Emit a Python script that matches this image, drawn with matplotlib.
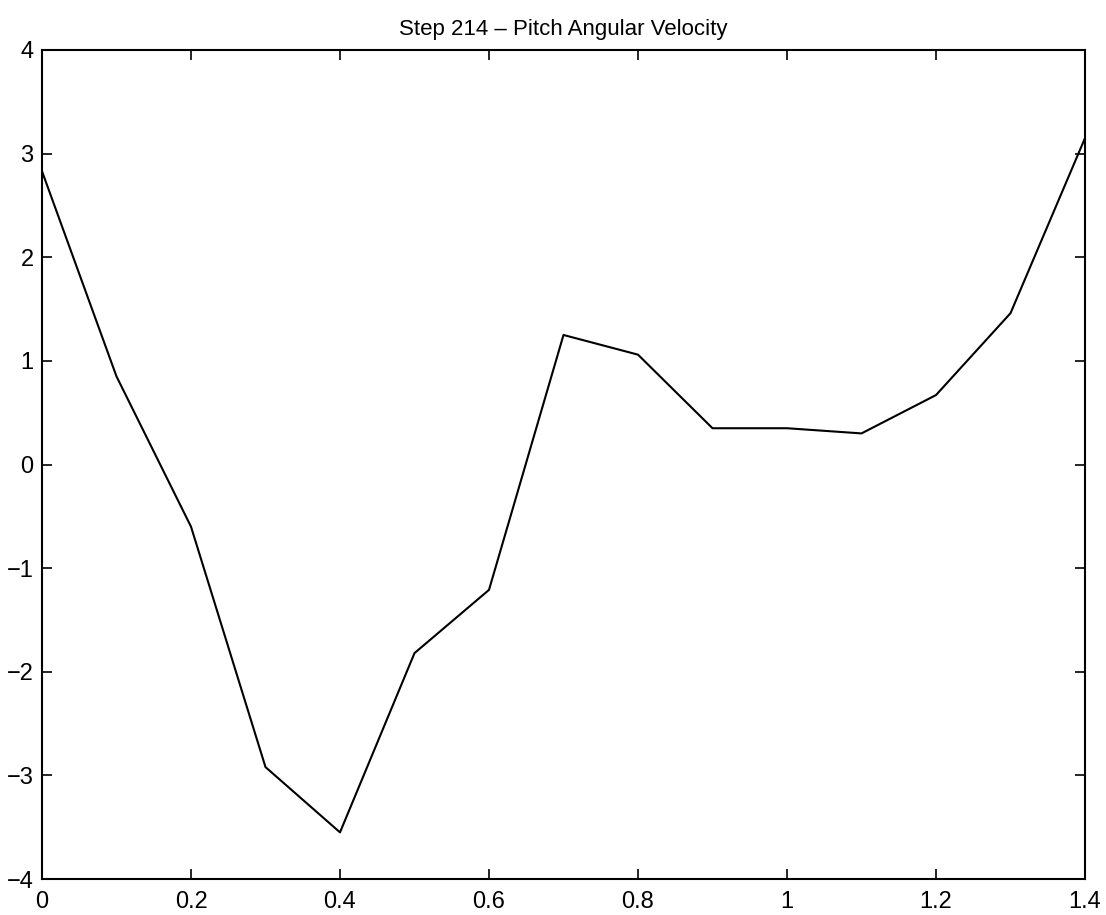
import matplotlib
matplotlib.use("Agg")
import matplotlib.pyplot as plt

t = [0.0, 0.1, 0.2, 0.3, 0.4, 0.5, 0.6, 0.7, 0.8, 0.9, 1.0, 1.1, 1.2, 1.3, 1.4]
pitch_rate = [2.83, 0.85, -0.60, -2.92, -3.55, -1.82, -1.21, 1.25, 1.06, 0.35, 0.35, 0.30, 0.67, 1.46, 3.15]
xticks = [0, 0.2, 0.4, 0.6, 0.8, 1, 1.2, 1.4]
xticklabels = ["0", "0.2", "0.4", "0.6", "0.8", "1", "1.2", "1.4"]
yticks = [-4, -3, -2, -1, 0, 1, 2, 3, 4]
yticklabels = ["\u22124", "\u22123", "\u22122", "\u22121", "0", "1", "2", "3", "4"]
title = "Step 214 \u2013 Pitch Angular Velocity"

plt.rcParams['font.family'] = ['Liberation Sans', 'DejaVu Sans']

fig = plt.figure(figsize=(11.06, 9.15), dpi=100)
ax = fig.add_axes([42/1106, 1 - 879/915, (1085-42)/1106, (879-50)/915])
ax.plot(t, pitch_rate, color='black', linewidth=1.5)
ax.set_xlim(0, 1.4)
ax.set_ylim(-4, 4)
ax.set_xticks(xticks)
ax.set_xticklabels(xticklabels)
ax.set_yticks(yticks)
ax.set_yticklabels(yticklabels)
ax.tick_params(direction='in', top=True, right=True, length=7, width=1.2, labelsize=17)
ax.tick_params(axis='x', pad=9)
ax.tick_params(axis='y', pad=6)
for s in ax.spines.values():
    s.set_linewidth(1.5)
ax.set_title(title, fontsize=16, pad=11)
fig.savefig("out.png", dpi=100)
